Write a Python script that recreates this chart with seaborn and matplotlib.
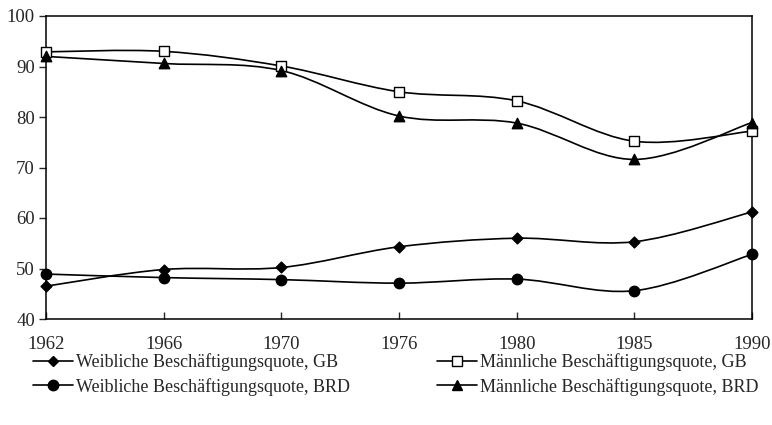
import numpy as np
import pandas as pd
import matplotlib
matplotlib.use("Agg")
import matplotlib.pyplot as plt
import seaborn as sns
from matplotlib.path import Path
from matplotlib.patches import PathPatch
from matplotlib.lines import Line2D

# data
years = ["1962", "1966", "1970", "1976", "1980", "1985", "1990"]
weibl_gb = [46.5, 49.8, 50.2, 54.3, 56.0, 55.3, 61.2]
weibl_brd = [48.9, 48.2, 47.8, 47.1, 47.9, 45.6, 52.8]
maennl_gb = [92.9, 93.0, 90.1, 85.0, 83.2, 75.2, 77.2]
maennl_brd = [92.0, 90.6, 89.2, 80.2, 78.8, 71.6, 78.9]

labels = ["Weibliche Beschäftigungsquote, GB",
          "Weibliche Beschäftigungsquote, BRD",
          "Männliche Beschäftigungsquote, GB",
          "Männliche Beschäftigungsquote, BRD"]

sns.set_style("white")
plt.rcParams['font.family'] = ['Liberation Serif', 'DejaVu Serif']

rows = []
for lab, vals in zip(labels, [weibl_gb, weibl_brd, maennl_gb, maennl_brd]):
    for i, (yr, v) in enumerate(zip(years, vals)):
        rows.append({"series": lab, "pos": i, "year": yr, "value": v})
df = pd.DataFrame(rows)

# marker styles per series: (marker, size, facecolor)
styles = {
    labels[0]: ("D", 5.5, "black"),
    labels[1]: ("o", 7.5, "black"),
    labels[2]: ("s", 7.0, "white"),
    labels[3]: ("^", 7.5, "black"),
}


def smooth_path(x, y):
    # excel-like smoothed line: cubic bezier segments through the points
    pts = np.column_stack([x, y]).astype(float)
    n = len(pts)
    verts = [pts[0]]
    codes = [Path.MOVETO]
    for i in range(n - 1):
        p0 = pts[i - 1] if i > 0 else pts[i]
        p1 = pts[i]
        p2 = pts[i + 1]
        p3 = pts[i + 2] if i + 2 < n else pts[i + 1]
        c1 = p1 + (p2 - p0) / 6.0
        c2 = p2 - (p3 - p1) / 6.0
        verts += [c1, c2, p2]
        codes += [Path.CURVE4] * 3
    return Path(verts, codes)


fig = plt.figure(figsize=(7.72, 4.25), dpi=100)
ax = fig.add_axes([46 / 772, 1 - 319 / 425, 706 / 772, 303 / 425])

for lab in labels:
    sub = df[df.series == lab]
    patch = PathPatch(smooth_path(sub.pos.values, sub.value.values),
                      facecolor="none", edgecolor="black", lw=1.2, zorder=2)
    ax.add_patch(patch)
    m, ms, fc = styles[lab]
    sns.scatterplot(data=sub, x="pos", y="value", marker=m, s=ms ** 2,
                    color=fc, edgecolor="black", linewidth=1.0, ax=ax,
                    zorder=3, clip_on=False, legend=False)

ax.set_xlim(0, len(years) - 1)
ax.set_ylim(40, 100)
ax.set_xticks(range(len(years)))
ax.set_xticklabels(years)
ax.set_yticks(range(40, 101, 10))
ax.set_xlabel("")
ax.set_ylabel("")
ax.tick_params(axis="x", direction="in", length=5, width=1, pad=12,
               labelsize=13.5, bottom=True)
ax.tick_params(axis="y", direction="out", length=5, width=1, pad=3,
               labelsize=13.5, left=True)
for sp in ax.spines.values():
    sp.set_color("black")
    sp.set_linewidth(1.1)

handles = []
for lab in labels:
    m, ms, fc = styles[lab]
    handles.append(Line2D([], [], color="black", lw=1.2, marker=m,
                          markersize=ms, markerfacecolor=fc,
                          markeredgecolor="black"))

fig.legend(handles, labels, loc="upper left",
           bbox_to_anchor=(33 / 772, 1 - 353 / 425), ncol=2, frameon=False,
           fontsize=13, handlelength=2.2, handletextpad=0.2,
           columnspacing=4.8, labelspacing=0.38, borderpad=0,
           borderaxespad=0)

fig.savefig("out.png", dpi=100)
